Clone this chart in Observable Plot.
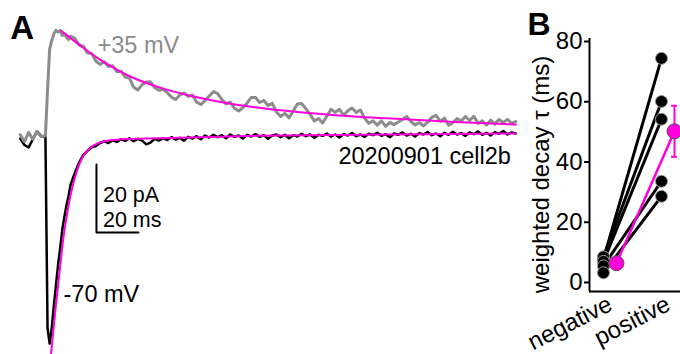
<!DOCTYPE html>
<html>
<head>
<meta charset="utf-8">
<script src="https://cdn.jsdelivr.net/npm/d3@7"></script>
<script src="https://cdn.jsdelivr.net/npm/@observablehq/plot@0.6"></script>
<style>
  html, body { margin: 0; padding: 0; background: #fff; }
  #figure { position: relative; width: 680px; height: 354px; overflow: hidden; }
  #figure svg { position: absolute; top: 0; background: transparent; overflow: visible; }
</style>
</head>
<body>
<div id="figure"></div>
<script>
// ---------- Panel A: example currents (pA) vs time (ms from stimulus) ----------
// Sampling grid: 2 ms before onset, 1 ms through the peak, 2 ms afterwards
const traceTime = [...d3.range(-12, 0, 2), ...d3.range(0, 12, 1), ...d3.range(12, 225, 2)];

// +35 mV (outward) current
const grayTrace = [
  0.8, -1.2, 1.5, -0.5, 1.8, 0.3,
  0.5, 14, 26, 28.5, 30.5, 31.5, 31.0, 31.5, 30.0, 30.5, 29.5, 28.8,
  29.8, 29.2, 27.3, 26.9, 24.9, 24.7, 22.5, 21.5, 22.3, 20.9,
  21.1, 19.4, 19.5, 17.8, 17.5, 14.8, 14.0, 15.5, 16.3, 16.4,
  14.7, 13.9, 14.2, 13.2, 11.9, 11.2, 12.5, 13.1, 12.1, 12.5,
  10.4, 9.7, 10.9, 12.2, 13.5, 12.9, 11.2, 9.9, 10.4, 8.6,
  7.8, 8.8, 10.1, 11.8, 11.8, 10.3, 10.9, 9.4, 10.1, 7.5,
  6.2, 7.1, 5.8, 7.8, 9.9, 10.0, 8.5, 6.8, 4.9, 5.6,
  4.3, 6.3, 8.3, 7.4, 8.3, 6.6, 7.85, 8.7, 7.4, 8.1,
  5.65, 4.2, 4.9, 3.65, 4.9, 3.3, 4.45, 3.8, 4.55, 5.3,
  6.2, 4.75, 3.7, 4.45, 3.4, 4.5, 5.95, 6.5, 4.75, 5.7,
  3.6, 4.35, 5.6, 4.85, 6.2, 5.0, 6.25, 4.1, 4.95, 3.7,
  5.1, 3.95, 5.3, 4.4, 5.35, 4.2, 4.7
];

// -70 mV (inward) current
const blackTrace = [
  -0.3, -2.2, -2.9, -0.5, 1.8, 0.4,
  0.2, -56, -60.6, -56.0, -49.5, -43.5, -37.5, -32.5, -27.2, -23.4, -20.0, -17.2,
  -13.8, -10.4, -7.4, -5.2, -3.9, -2.9, -2.5, -1.6, -1.1, -1.6,
  -0.8, -1.3, -0.5, -1.0, -0.2, -1.1, -0.4, -0.9, -2.0, -1.5,
  -0.4, -0.9, -0.2, -0.7, 0.1, -0.6, -0.1, -0.9, 0.2, -0.3,
  0.4, -0.5, 0.6, 0.0, 0.8, 0.1, 0.7, -0.2, 0.9, 0.2,
  0.6, -0.3, 0.8, 0.3, 1.0, 0.2, 0.7, -0.4, 0.6, 0.9,
  0.1, 0.8, -0.2, 0.7, 0.3, 1.1, 0.4, 0.9, -0.1, 0.8,
  0.5, 1.2, 0.3, 0.9, 0.0, 1.0, 0.6, 1.3, 0.4, 0.9,
  0.2, 1.1, 0.7, 1.4, 0.5, 1.0, 0.1, 1.2, 0.8, 1.5,
  0.6, 1.1, 0.3, 1.3, 0.9, 1.6, 0.7, 1.2, 0.4, 1.4,
  0.8, 1.7, 0.9, 1.3, 0.5, 1.5, 1.0, 1.8, 0.8, 1.4,
  0.6, 1.6, 1.1, 1.9, 0.9, 1.5, 1.2
];

// Exponential fits to the decay phases
const grayFitTime = [7.5, 10, 18, 26, 34, 42, 55, 69, 84, 100, 120, 140, 167, 195, 224];
const grayFit     = [31.4, 30.2, 26.4, 22.9, 20.0, 17.5, 14.6, 12.3, 10.4, 8.9, 7.5, 6.5, 5.5, 4.6, 3.8];
const blackFitTime = [2, 3, 4, 5, 6.5, 8.4, 10, 11.1, 13, 14.8, 17, 19, 21.4, 25, 30, 40, 60, 100, 150, 224];
const blackFit     = [-68, -61.5, -55.2, -49.2, -40.8, -30.2, -23.6, -19.6, -14.2, -10.2, -6.6, -4.6, -3.0, -1.7, -0.9, -0.4, -0.1, 0.5, 0.85, 1.2];

// Scale bar size
const scaleBarMs = 20;
const scaleBarPA = 20;

// ---------- Panel B: weighted decay tau (ms) per cell ----------
const groups = ["negative", "positive"];
const tauNegative = [7.8, 8.5, 7.0, 5.5, 3.2];
const tauPositive = [74.4, 60.1, 54.2, 33.6, 28.6];
const yTicks = [0, 20, 40, 60, 80];

// ---------- styling ----------
const font = "'Liberation Sans', Arial, Helvetica, sans-serif";
const gray = "#8c8c8c";
const magenta = "#ff00dc";

// ---------- Panel A ----------
const barOrigin = {t: 24.3, pA: -27.9};
const scaleBar = [
  [barOrigin.t, barOrigin.pA + scaleBarPA],
  [barOrigin.t, barOrigin.pA],
  [barOrigin.t + scaleBarMs, barOrigin.pA]
];

const panelA = Plot.plot({
  width: 525,
  height: 354,
  margin: 0,
  x: {domain: [-21.4, 228.6], axis: null},
  y: {domain: [-63.8, 40.3], axis: null},
  style: {fontFamily: font, fontSize: "23.5px", background: "transparent"},
  marks: [
    Plot.line(traceTime, {x: d => d, y: (d, i) => blackTrace[i], stroke: "black", strokeWidth: 2.5, strokeLinejoin: "round"}),
    Plot.line(traceTime, {x: d => d, y: (d, i) => grayTrace[i], stroke: gray, strokeWidth: 3, strokeLinejoin: "round"}),
    Plot.line(grayFitTime, {x: d => d, y: (d, i) => grayFit[i], stroke: magenta, strokeWidth: 2, curve: "monotone-x"}),
    Plot.line(blackFitTime, {x: d => d, y: (d, i) => blackFit[i], stroke: magenta, strokeWidth: 2, curve: "monotone-x", clip: true}),
    Plot.line(scaleBar, {x: d => d[0], y: d => d[1], stroke: "black", strokeWidth: 2}),
    Plot.text([`${scaleBarPA} pA`], {x: 27.4, y: -19.1, textAnchor: "start", lineAnchor: "bottom", fontSize: 21.5, fill: "black"}),
    Plot.text([`${scaleBarMs} ms`], {x: 27.4, y: -26.2, textAnchor: "start", lineAnchor: "bottom", fontSize: 21.5, fill: "black"}),
    Plot.text(["+35 mV"], {x: 24.8, y: 25.0, textAnchor: "start", lineAnchor: "bottom", fill: gray}),
    Plot.text(["-70 mV"], {x: 8.6, y: -48.5, textAnchor: "start", lineAnchor: "bottom", fill: "black"}),
    Plot.text(["20200901 cell2b"], {x: 139.5, y: -7.65, textAnchor: "start", lineAnchor: "bottom", fill: "black"}),
    Plot.text(["A"], {x: -16.7, y: 35.9, textAnchor: "start", lineAnchor: "top", fontWeight: "bold", fontSize: 33, fill: "black"})
  ]
});
panelA.style.left = "0px";

// ---------- Panel B ----------
const pairs = tauNegative.map((neg, i) => ({neg, pos: tauPositive[i]}));
const points = [
  ...tauNegative.map(v => ({g: 0, tau: v})),
  ...tauPositive.map(v => ({g: 1, tau: v}))
];
const sem = v => d3.deviation(v) / Math.sqrt(v.length);
const summary = [
  {g: 0, mean: d3.mean(tauNegative), sem: sem(tauNegative)},
  {g: 1, mean: d3.mean(tauPositive), sem: sem(tauPositive)}
];
const meanShift = 13;   // summary drawn just right of the cells
const capHalf = 0.05;

const panelB = Plot.plot({
  width: 210,
  height: 354,
  marginLeft: 119,
  marginRight: 0,
  marginTop: 41,
  marginBottom: 63,
  x: {domain: [-0.241, 1.328], axis: null},
  y: {domain: [-3, 80], axis: null},
  style: {fontFamily: font, fontSize: "24px", background: "transparent"},
  marks: [
    Plot.ruleY([-3], {stroke: "black", strokeWidth: 2}),
    Plot.ruleX([-0.241], {y1: -3, y2: 81, stroke: "black", strokeWidth: 2}),
    Plot.axisY({ticks: yTicks, tickSize: 5, tickPadding: 2, strokeWidth: 2, label: null, fill: "black"}),
    Plot.link(pairs, {x1: 0, y1: "neg", x2: 1, y2: "pos", stroke: "black", strokeWidth: 3}),
    Plot.dot(points, {x: "g", y: "tau", r: 6, fill: "black", stroke: "#9a9a9a", strokeWidth: 1}),
    Plot.link([summary], {x1: 0, y1: d => d[0].mean, x2: 1, y2: d => d[1].mean, stroke: magenta, strokeWidth: 2.5, dx: meanShift}),
    Plot.ruleX(summary, {x: "g", y1: d => d.mean - d.sem, y2: d => d.mean + d.sem, stroke: magenta, strokeWidth: 2, dx: meanShift}),
    Plot.ruleY(summary, {y: d => d.mean + d.sem, x1: d => d.g - capHalf, x2: d => d.g + capHalf, stroke: magenta, strokeWidth: 2, dx: meanShift}),
    Plot.ruleY(summary, {y: d => d.mean - d.sem, x1: d => d.g - capHalf, x2: d => d.g + capHalf, stroke: magenta, strokeWidth: 2, dx: meanShift}),
    Plot.dot(summary, {x: "g", y: "mean", r: 7.5, fill: magenta, stroke: "#555", strokeWidth: 1, dx: meanShift}),
    Plot.text(groups, {x: (d, i) => i, frameAnchor: "bottom", rotate: -27, textAnchor: "end", lineAnchor: "middle", dx: 7, dy: 11, fill: "black"}),
    Plot.text(["weighted decay τ (ms)"], {frameAnchor: "left", textAnchor: "middle", lineAnchor: "middle", rotate: -90, dx: -48, dy: 8, fill: "black"}),
    Plot.text(["B"], {frameAnchor: "top-left", textAnchor: "start", lineAnchor: "top", dx: -62, dy: -29, fontWeight: "bold", fontSize: 32, fill: "black"})
  ]
});
panelB.style.left = "470px";

const fig = document.getElementById("figure");
fig.append(panelA, panelB);
</script>
</body>
</html>
